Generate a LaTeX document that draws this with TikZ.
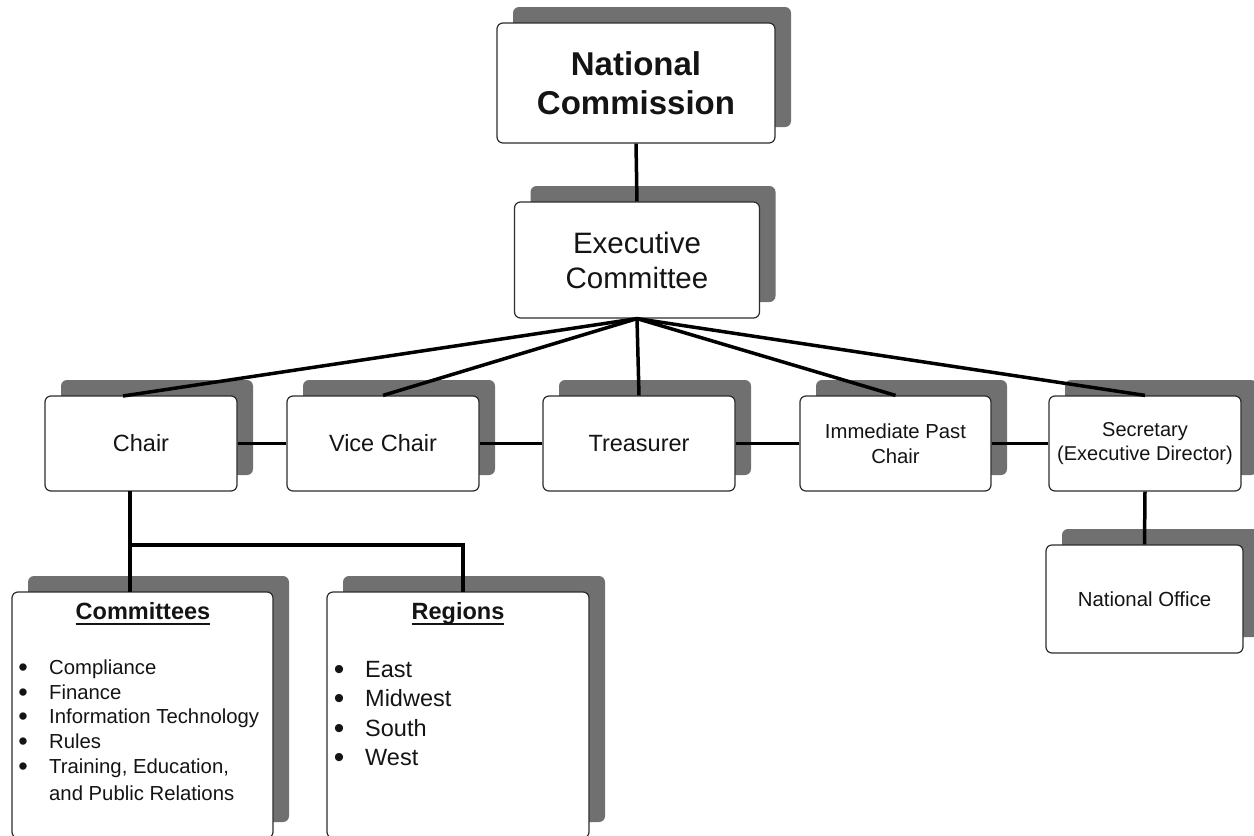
\documentclass[tikz,border=0pt]{standalone}
\usepackage{fontspec}
\setmainfont{Liberation Sans}
\usetikzlibrary{shadows}
\definecolor{shadowgray}{RGB}{112,112,112}
\definecolor{boxline}{RGB}{45,45,45}
\definecolor{txt}{RGB}{20,20,20}
\newcommand\ulword[1]{\setbox0\hbox{#1}\rlap{\rule[-5.5pt]{\wd0}{1.7pt}}\box0}
\tikzset{
  orgbox/.style={draw=boxline, line width=1.2pt, fill=white, rounded corners=6pt,
    inner sep=0pt, align=center, text=txt,
    general shadow={fill=shadowgray, shadow xshift=16pt, shadow yshift=16pt}},
  rowbox/.style={orgbox, minimum width=192pt, minimum height=95pt},
  conn/.style={line width=3.5pt, draw=black},
  fbig/.style={font=\fontsize{23.5}{28}\selectfont},
  fsmall/.style={font=\fontsize{20.3}{24.8}\selectfont},
  lbl/.style={inner sep=0pt, text=txt},
  bulsmall/.style={lbl, font=\fontsize{27}{30}\selectfont},
  bulbig/.style={lbl, font=\fontsize{30}{34}\selectfont},
}
\begin{document}
\begin{tikzpicture}[x=1pt,y=-1pt]
\fill[white] (0,0) rectangle (1254,836);
\useasboundingbox (0,0) rectangle (1254,836);

% top boxes
\node[orgbox, minimum width=278pt, minimum height=120pt,
  font=\fontsize{33}{39}\selectfont\bfseries] (nc) at (636,83) {National\\[-0.5pt]Commission};
\node[orgbox, minimum width=245pt, minimum height=116pt,
  font=\fontsize{29.5}{35}\selectfont] (ec) at (637,260) {Executive\\Committee};

% row
\node[rowbox, fbig] (chair) at (141,443.5) {Chair};
\node[rowbox, fbig] (vice) at (383,443.5) {Vice Chair};
\node[rowbox, fbig] (treas) at (639,443.5) {Treasurer};
\node[rowbox, fsmall, minimum width=191pt] (imm) at (895.5,443.5) {Immediate Past\\Chair};
\node[rowbox, font=\fontsize{20}{24.5}\selectfont] (sec) at (1145,443.5) {Secretary\\(Executive Director)};

% national office
\node[orgbox, minimum width=197pt, minimum height=108pt, font=\fontsize{20.4}{25}\selectfont]
  (natoff) at (1144.5,599) {National Office};

% committees and regions
\node[orgbox, minimum width=261pt, minimum height=246pt] (comm) at (142.5,715) {};
\node[orgbox, minimum width=262pt, minimum height=246pt] (reg) at (458,715) {};

\node[lbl, anchor=base, font=\fontsize{23.5}{28}\selectfont\bfseries] (commttl) at (143,619) {\ulword{Committees}};
\node[lbl, anchor=base, font=\fontsize{23.5}{28}\selectfont\bfseries] (regttl) at (458,619) {\ulword{Regions}};

% committees list
\node[bulsmall, anchor=base] (cb1) at (23,676) {•};
\node[lbl, fsmall, anchor=base west] (ci1) at (49,674) {Compliance};
\node[bulsmall, anchor=base] (cb2) at (23,701) {•};
\node[lbl, fsmall, anchor=base west] (ci2) at (49,699) {Finance};
\node[bulsmall, anchor=base] (cb3) at (23,725.5) {•};
\node[lbl, fsmall, anchor=base west] (ci3) at (49,723.5) {Information Technology};
\node[bulsmall, anchor=base] (cb4) at (23,750) {•};
\node[lbl, fsmall, anchor=base west] (ci4) at (49,748) {Rules};
\node[bulsmall, anchor=base] (cb5) at (23,775) {•};
\node[lbl, fsmall, anchor=base west] (ci5) at (49,773) {Training, Education,};
\node[lbl, fsmall, anchor=base west] (ci6) at (49,800) {and Public Relations};

% regions list
\node[bulbig, anchor=base] (rb1) at (339,679) {•};
\node[lbl, fbig, anchor=base west] (ri1) at (365,677) {East};
\node[bulbig, anchor=base] (rb2) at (339,708.5) {•};
\node[lbl, fbig, anchor=base west] (ri2) at (365,706.5) {Midwest};
\node[bulbig, anchor=base] (rb3) at (339,738) {•};
\node[lbl, fbig, anchor=base west] (ri3) at (365,736) {South};
\node[bulbig, anchor=base] (rb4) at (339,767) {•};
\node[lbl, fbig, anchor=base west] (ri4) at (365,765) {West};

% connector end points
\coordinate (chairtop) at (123,396);
\coordinate (cbot) at (130,491);
\coordinate (cjoin) at (130,545);
\coordinate (commtop) at (130,592);
\coordinate (regtop) at (463,592);

% connectors
\draw[conn] (nc.south) -- (ec.north);
\draw[conn] (ec.south) -- (chairtop);
\draw[conn] (ec.south) -- (vice.north);
\draw[conn] (ec.south) -- (treas.north);
\draw[conn] (ec.south) -- (imm.north);
\draw[conn] (ec.south) -- (sec.north);
\draw[conn] (chair.east) -- (vice.west);
\draw[conn] (vice.east) -- (treas.west);
\draw[conn] (treas.east) -- (imm.west);
\draw[conn] (imm.east) -- (sec.west);
\draw[conn] (cbot) -- (commtop);
\draw[conn] (cjoin) -| (regtop);
\draw[conn] (sec.south) -- (natoff.north);
\end{tikzpicture}
\end{document}
